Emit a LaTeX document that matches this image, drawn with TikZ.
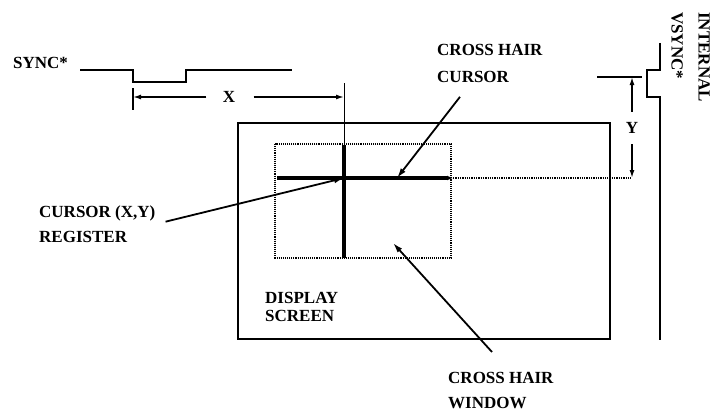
\documentclass[tikz,border=0pt]{standalone}
\usepackage{fontspec}
\setmainfont{Liberation Serif}
\usetikzlibrary{arrows.meta,calc}

\begin{document}
\begin{tikzpicture}[x=1pt,y=-1pt,
      lbl/.style={align=left,font=\fontsize{17}{25}\selectfont\bfseries,inner sep=0pt,anchor=north west},
      wave/.style={line width=1.9pt},
      lead/.style={line width=1.8pt,-{Latex[length=10pt,width=6pt]}},
      dim/.style={line width=1.5pt,-{Latex[length=8pt,width=5pt]}}]
    \useasboundingbox (0,0) rectangle (711,412);
    % labels
    \node[lbl,anchor=west] (sync) at (13,63) {SYNC*};
    \node[lbl] (chc) at (437,44) {CROSS HAIR\\[2pt]CURSOR};
    \node[lbl] (reg) at (39,206) {CURSOR (X,Y)\\REGISTER};
    \node[lbl,font=\fontsize{17}{18}\selectfont\bfseries] (disp) at (265,292) {DISPLAY\\SCREEN};
    \node[lbl] (chw) at (448,372) {CROSS HAIR\\WINDOW};
    \node[lbl,rotate=-90,font=\fontsize{17}{27}\selectfont\bfseries] (vsync) at (710,12) {INTERNAL\\VSYNC*};
    \node[font=\fontsize{17}{20}\selectfont\bfseries] (xlbl) at (229,97) {X};
    \node[font=\fontsize{17}{20}\selectfont\bfseries] (ylbl) at (632,128) {Y};
    % points
    \coordinate (ctr) at (344,178);
    \coordinate (chtip) at (397,178);
    \coordinate (wtip) at (393,243);
    \coordinate (xl) at (133,97);
    \coordinate (xr) at (344,97);
    \coordinate (ytop) at (632,77);
    \coordinate (ybot) at (632,178);
    % waveforms
    \draw[wave] (80,70) -| (133,82) -| (186,70) -- (292,70);
    \draw[wave] (660,43) |- (647,70) |- (660,97) -- (660,340);
    % screen and window
    \draw[line width=2pt] (238,123) rectangle (610,339);
    \draw[densely dotted,line width=1.1pt] (275,144) rectangle (451,258);
    % cross hair
    \draw[line width=3.2pt,-{Latex[length=6pt,width=5pt]}] (277,178) -- (453,178);
    \draw[line width=3.2pt] (344,145) -- (344,258);
    \draw[densely dotted,line width=1.3pt] (453,178) -- (ybot);
    % X and Y
    \draw[line width=1.6pt] (133,88) -- (133,110);
    \draw[line width=0.7pt] (344,83) -- (344,145);
    \draw[dim] ([xshift=-13pt]xlbl.west) -- (xl);
    \draw[dim] ([xshift=15pt]xlbl.east) -- (xr);
    \draw[line width=1.6pt] (597,77) -- (642,77);
    \draw[dim] ([yshift=7pt]ylbl.north) -- (ytop);
    \draw[dim] ([yshift=-7pt]ylbl.south) -- (ybot);
    % leaders
    \draw[lead] ([shift={(10pt,3pt)}]reg.east) -- (ctr);
    \draw[lead] ($(chc.south west)+(23,14)$) -- (chtip);
    \draw[lead] ($(chw.north west)+(44,-20)$) -- (wtip);
\end{tikzpicture}
\end{document}
